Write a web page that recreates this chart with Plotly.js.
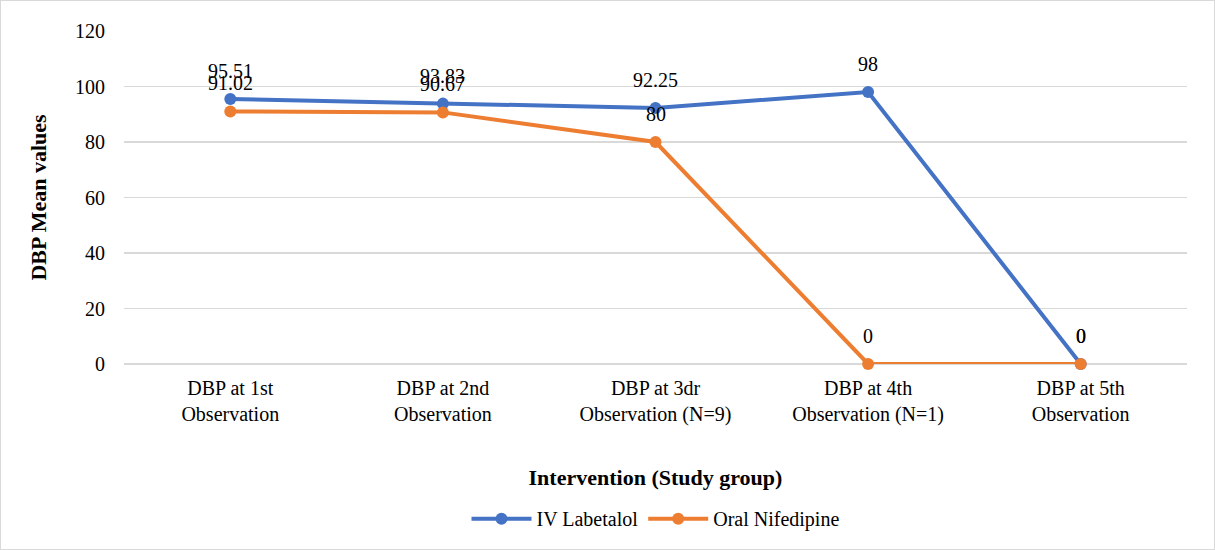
<!DOCTYPE html>
<html>
<head>
<meta charset="utf-8">
<script src="https://cdn.plot.ly/plotly-3.0.1.min.js"></script>
<style>
html,body{margin:0;padding:0;background:#fff;}
#chart{width:1213px;height:548px;border:1px solid #d9d9d9;}
</style>
</head>
<body>
<div id="chart"></div>
<script>
const categories = [
  "DBP at 1st<br>Observation",
  "DBP at 2nd<br>Observation",
  "DBP at 3dr<br>Observation (N=9)",
  "DBP at 4th<br>Observation (N=1)",
  "DBP at 5th<br>Observation"
];
const labetalol = [95.51, 93.83, 92.25, 98, 0];
const nifedipine = [91.02, 90.67, 80, 0, 0];
const seriesNames = ["IV Labetalol", "Oral Nifedipine"];
const yTicks = [0, 20, 40, 60, 80, 100, 120];

const seriesColors = ["#4472C4", "#ED7D31"];
const FAMILY = "Liberation Serif";

const traces = [labetalol, nifedipine].map((vals, i) => ({
  type: "scatter",
  mode: "lines+markers",
  name: seriesNames[i],
  x: categories,
  y: vals,
  line: {color: seriesColors[i], width: 4},
  marker: {color: seriesColors[i], size: 12},
  cliponaxis: false
}));

const annotations = [];
[labetalol, nifedipine].forEach((vals) => {
  vals.forEach((v, j) => {
    annotations.push({
      x: categories[j], y: v, xref: "x", yref: "y",
      text: String(v), showarrow: false, yshift: 28,
      font: {family: FAMILY, size: 20}
    });
  });
});

const layout = {
  width: 1213, height: 548,
  margin: {l: 123, r: 27, t: 30, b: 184},
  paper_bgcolor: "#fff", plot_bgcolor: "#fff",
  font: {family: FAMILY, size: 20, color: "#000"},
  showlegend: true,
  legend: {orientation: "h", x: 0.5, xanchor: "center", y: -0.46, yanchor: "middle",
           font: {family: FAMILY, size: 20}, itemwidth: 60},
  xaxis: {
    type: "category", range: [-0.5, 4.5],
    showgrid: false, zeroline: false, showline: false,
    ticks: "", tickfont: {family: FAMILY, size: 20},
    ticklabelstandoff: 10,
    title: {text: "<b>Intervention (Study group)</b>", font: {family: FAMILY, size: 22}, standoff: 44},
    automargin: false
  },
  yaxis: {
    range: [0, 120], tickvals: yTicks, ticktext: yTicks.map(String),
    showgrid: true, gridcolor: "#d9d9d9", gridwidth: 1.5,
    zeroline: true, zerolinecolor: "#d9d9d9", zerolinewidth: 1.5,
    showline: false, ticks: "", ticklen: 0, ticklabelstandoff: 18,
    tickfont: {family: FAMILY, size: 20},
    title: {text: "<b>DBP Mean values</b>", font: {family: FAMILY, size: 22}, standoff: 22},
    automargin: false
  },
  annotations: annotations
};

Plotly.newPlot("chart", traces, layout, {displayModeBar: false, staticPlot: true});
</script>
</body>
</html>
